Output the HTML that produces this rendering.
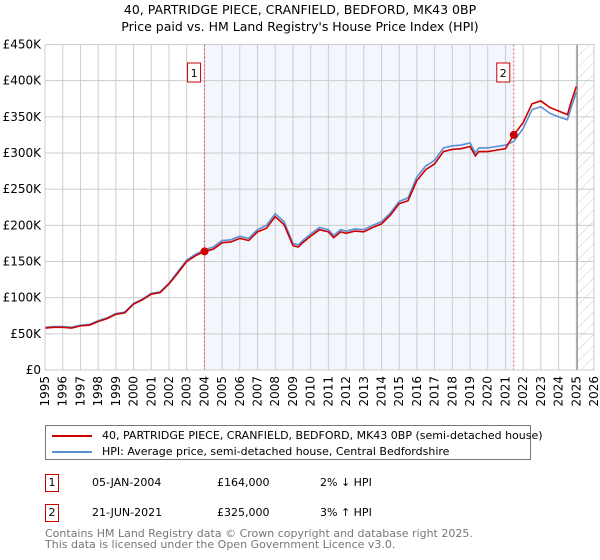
<!DOCTYPE html>
<html><head><meta charset="utf-8"><style>
body{margin:0;background:#fff;font-family:"DejaVu Sans","Liberation Sans",sans-serif;}
#wrap{position:relative;width:600px;height:560px;overflow:hidden;}
.t{position:absolute;font-size:12px;color:#000;white-space:nowrap;}
</style></head><body>
<div id="wrap">
<div class="t" style="left:0;width:600px;text-align:center;top:2px;font-size:12.5px;">40, PARTRIDGE PIECE, CRANFIELD, BEDFORD, MK43 0BP</div>
<div class="t" style="left:0;width:600px;text-align:center;top:19px;font-size:12.5px;">Price paid vs. HM Land Registry's House Price Index (HPI)</div>
<svg id="chart" width="600" height="420" style="position:absolute;left:0;top:0" font-family="DejaVu Sans, Liberation Sans, sans-serif" font-size="12"></svg>
<div style="position:absolute;left:45px;top:425px;width:486px;height:35px;border:1px solid #777;box-sizing:border-box;">
 <div style="position:absolute;left:6px;top:3px;font-size:11px;white-space:nowrap;"><span style="display:inline-block;width:40px;height:2px;background:#cc0000;vertical-align:middle;margin-right:10px;"></span>40, PARTRIDGE PIECE, CRANFIELD, BEDFORD, MK43 0BP (semi-detached house)</div>
 <div style="position:absolute;left:6px;top:19px;font-size:11px;white-space:nowrap;"><span style="display:inline-block;width:40px;height:2px;background:#5b8fd4;vertical-align:middle;margin-right:10px;"></span>HPI: Average price, semi-detached house, Central Bedfordshire</div>
</div>
<div style="position:absolute;left:0;top:474px;width:600px;height:20px;font-size:11px;">
 <div style="position:absolute;left:45px;top:0;width:14px;height:18px;border:1px solid #cc0000;box-sizing:border-box;text-align:center;line-height:16px;">1</div>
 <div class="t" style="left:92px;top:2px;font-size:11px;">05-JAN-2004</div>
 <div class="t" style="left:217px;top:2px;font-size:11px;">£164,000</div>
 <div class="t" style="left:320px;top:2px;font-size:11px;">2% ↓ HPI</div>
</div>
<div style="position:absolute;left:0;top:504px;width:600px;height:20px;font-size:11px;">
 <div style="position:absolute;left:45px;top:0;width:14px;height:18px;border:1px solid #cc0000;box-sizing:border-box;text-align:center;line-height:16px;">2</div>
 <div class="t" style="left:92px;top:2px;font-size:11px;">21-JUN-2021</div>
 <div class="t" style="left:217px;top:2px;font-size:11px;">£325,000</div>
 <div class="t" style="left:320px;top:2px;font-size:11px;">3% ↑ HPI</div>
</div>
<div class="t" style="left:45px;top:528px;font-size:11px;color:#777;line-height:11px;">Contains HM Land Registry data © Crown copyright and database right 2025.<br>This data is licensed under the Open Government Licence v3.0.</div>
</div>
<script>
const hpiYears=[1995,1995.5,1996,1996.5,1997,1997.5,1998,1998.5,1999,1999.5,2000,2000.5,2001,2001.5,2002,2002.5,2003,2003.5,2004,2004.5,2005,2005.5,2006,2006.5,2007,2007.5,2008,2008.5,2009,2009.3,2009.6,2010,2010.5,2011,2011.3,2011.7,2012,2012.5,2013,2013.5,2014,2014.5,2015,2015.5,2016,2016.5,2017,2017.5,2018,2018.5,2019,2019.3,2019.5,2020,2020.5,2021,2021.47,2022,2022.5,2023,2023.5,2024,2024.5,2024.7,2025];
const hpiValues=[59,60,60,59,62,63,68,72,78,80,92,98,106,108,120,136,152,160,166,170,179,180,185,182,194,200,216,205,175,173,180,188,197,194,186,194,192,195,194,200,205,217,233,238,267,282,290,307,310,311,314,300,307,307,309,311,316,334,360,364,355,350,346,362,384];
const priceYears=[1995,1995.5,1996,1996.5,1997,1997.5,1998,1998.5,1999,1999.5,2000,2000.5,2001,2001.5,2002,2002.5,2003,2003.5,2004.01,2004.5,2005,2005.5,2006,2006.5,2007,2007.5,2008,2008.5,2009,2009.3,2009.6,2010,2010.5,2011,2011.3,2011.7,2012,2012.5,2013,2013.5,2014,2014.5,2015,2015.5,2016,2016.5,2017,2017.5,2018,2018.5,2019,2019.3,2019.5,2020,2020.5,2021,2021.47,2022,2022.5,2023,2023.5,2024,2024.5,2024.7,2025];
const priceValues=[58,59,59,58,61,62,67,71,77,79,91,97,105,107,119,134,150,158,164,167,176,177,182,179,191,196,212,201,172,170,177,185,194,191,183,191,189,192,191,197,202,214,230,234,262,277,285,302,305,306,309,296,302,302,304,306,325,342,368,372,363,358,353,370,392];
const yTicks=[0,50,100,150,200,250,300,350,400,450];
const yTickLabels=["£0","£50K","£100K","£150K","£200K","£250K","£300K","£350K","£400K","£450K"];
const xTicks=[1995,1996,1997,1998,1999,2000,2001,2002,2003,2004,2005,2006,2007,2008,2009,2010,2011,2012,2013,2014,2015,2016,2017,2018,2019,2020,2021,2022,2023,2024,2025,2026];
const sales=[{n:"1",year:2004.01,value:164},{n:"2",year:2021.47,value:325}];
const hatchStart=2025.05;

const X0=45,X1=594,Y0=370,Y1=44.5;
const xs=y=>X0+(y-1995)/(2026-1995)*(X1-X0);
const ys=v=>Y0-v/450*(Y0-Y1);
const svg=document.getElementById('chart');
const NS='http://www.w3.org/2000/svg';
function mk(tag,attrs,parent){const e=document.createElementNS(NS,tag);for(const k in attrs)e.setAttribute(k,attrs[k]);(parent||svg).appendChild(e);return e;}
const defs=mk('defs',{});
const pat=mk('pattern',{id:'hatch',width:8,height:8,patternUnits:'userSpaceOnUse',patternTransform:'rotate(45)'},defs);
mk('line',{x1:0,y1:0,x2:0,y2:8,stroke:'#ccc','stroke-width':1},pat);

const shade=mk('rect',{x:xs(sales[0].year),y:Y1,width:xs(sales[1].year)-xs(sales[0].year),height:Y0-Y1,fill:'#f3f6fd'});


const hatch=mk('rect',{x:xs(hatchStart),y:Y1,width:X1-xs(hatchStart),height:Y0-Y1,fill:'url(#hatch)'});



yTicks.forEach((v,i)=>{
  const g=mk('line',{x1:X0,x2:X1,y1:ys(v),y2:ys(v),stroke:'#ccc','stroke-width':1});
  
  
  const t=mk('text',{x:X0-4,y:ys(v)+4,'text-anchor':'end',fill:'#000'});
  t.textContent=yTickLabels[i];
  
  
});
xTicks.forEach(yr=>{
  const g=mk('line',{x1:xs(yr),x2:xs(yr),y1:Y1,y2:Y0,stroke:'#ccc','stroke-width':1});
  
  
  const t=mk('text',{x:0,y:0,'text-anchor':'end',fill:'#000',transform:`translate(${xs(yr)+4},${Y0+6}) rotate(-90)`});
  t.textContent=yr;
  
  
});
const vl=mk('line',{x1:xs(hatchStart),x2:xs(hatchStart),y1:Y1,y2:Y0,stroke:'#888','stroke-width':1.2});



sales.forEach(s=>{
  const l=mk('line',{x1:xs(s.year),x2:xs(s.year),y1:Y1,y2:Y0,stroke:'#e05050','stroke-width':1,'stroke-dasharray':'2,2'});
  
  
});

const hp=mk('polyline',{points:hpiYears.map((y,i)=>xs(y)+','+ys(hpiValues[i])).join(' '),fill:'none',stroke:'#5b8fd4','stroke-width':1.6});


const pp=mk('polyline',{points:priceYears.map((y,i)=>xs(y)+','+ys(priceValues[i])).join(' '),fill:'none',stroke:'#cc0000','stroke-width':1.6});



sales.forEach(s=>{
  const c=mk('circle',{cx:xs(s.year),cy:ys(s.value),r:4,fill:'#cc0000'});
  
  
  const bx=xs(s.year)-17;
  const r=mk('rect',{x:bx,y:63,width:13,height:19,fill:'#fff',stroke:'#cc0000','stroke-width':1});
  
  
  const t=mk('text',{x:bx+6.5,y:77,'text-anchor':'middle',fill:'#000','font-size':11});
  t.textContent=s.n;
  
  
});
const frame=mk('rect',{x:X0,y:Y1,width:X1-X0,height:Y0-Y1,fill:'none',stroke:'#ccc'});


</script>
</body></html>
